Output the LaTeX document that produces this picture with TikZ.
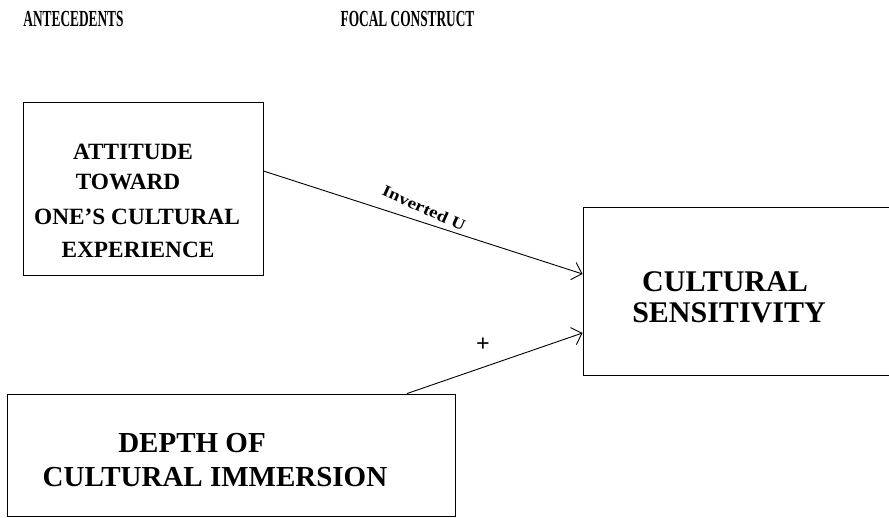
\documentclass[tikz,border=0pt]{standalone}
\usepackage{fontspec}
\setmainfont{Liberation Serif}
\usetikzlibrary{arrows.meta}
\tikzset{
  box/.style={draw=black, line width=0.9pt, inner sep=0pt, rectangle},
  head/.style={inner sep=0pt, font=\fontsize{23}{23}\selectfont\bfseries},
  atxt/.style={inner sep=0pt, font=\fontsize{23.3}{23.3}\selectfont\bfseries},
  btxt/.style={inner sep=0pt, font=\fontsize{29}{29}\selectfont\bfseries},
  ctxt/.style={inner sep=0pt, font=\fontsize{30}{30}\selectfont\bfseries},
  conn/.style={draw=black, line width=0.9pt, -{Straight Barb[length=9pt,width=18pt,line width=0.9pt]}},
  lab/.style={inner sep=0pt}
}
\begin{document}
\begin{tikzpicture}[x=1pt,y=-1pt]
\useasboundingbox (0,0) rectangle (889,518);
\clip (0,0) rectangle (889,518);
\fill[white] (0,0) rectangle (889,518);
% headings
\node[head] (hant) at (73.5,19) {\scalebox{0.58}[1]{ANTECEDENTS}};
\node[head] (hfoc) at (407.5,19) {\scalebox{0.58}[1]{FOCAL CONSTRUCT}};
% boxes
\node[box, minimum width=240pt, minimum height=173pt] (att) at (143,188.5) {};
\node[box, minimum width=312pt, minimum height=168pt] (sens) at (739,291) {};
\node[box, minimum width=448pt, minimum height=122pt] (dep) at (231,455) {};
% box texts
\node[atxt] (a1) at (133,152) {ATTITUDE};
\node[atxt] (a2) at (128,182) {TOWARD};
\node[atxt] (a3) at (137,217) {ONE'S CULTURAL};
\node[atxt] (a4) at (138,250) {EXPERIENCE};
\node[ctxt] (c1) at (725,282) {CULTURAL};
\node[ctxt] (c2) at (729,313) {SENSITIVITY};
\node[btxt] (d1) at (192,443) {DEPTH OF};
\node[btxt] (d2) at (215,477) {CULTURAL IMMERSION};
% connectors
\draw[conn] ([yshift=17.5pt]att.east) -- ([yshift=17pt]sens.west);
\draw[conn] ([xshift=176pt]dep.north) -- ([yshift=-42pt]sens.west);
% labels
\node[lab, rotate=-24, font=\fontsize{16}{16}\selectfont\bfseries] (inv) at (424,208) {\scalebox{1.2}[1]{Inverted U}};
\node[lab, font=\fontsize{24}{24}\selectfont\bfseries] (plus) at (483,345) {+};
\end{tikzpicture}
\end{document}
